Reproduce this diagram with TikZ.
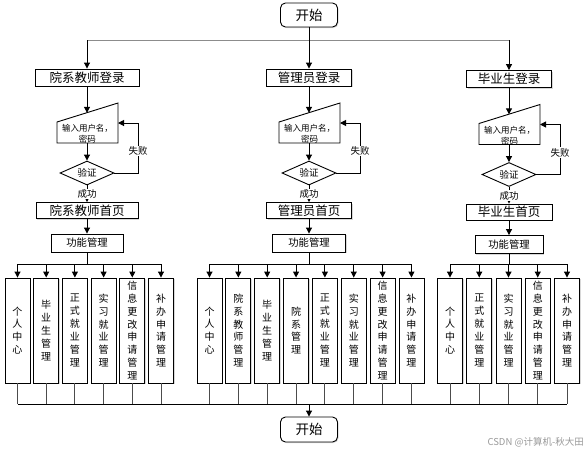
\documentclass[tikz,border=0pt]{standalone}
\usepackage{fontspec}
\setmainfont{Noto Sans CJK SC}
\usetikzlibrary{arrows.meta,shapes.geometric,shadows}
\tikzset{
  arr/.style={-{Triangle[length=6pt,width=6pt]}, line width=1pt},
  conn/.style={line width=1pt},
  shd/.style={drop shadow={shadow xshift=1pt,shadow yshift=-1pt,fill=black!30,opacity=0.5}},
  box/.style={draw, line width=0.9pt, fill=white, inner sep=0pt, shd},
  bigtxt/.style={font=\fontsize{12.5pt}{14pt}\selectfont},
  midtxt/.style={font=\fontsize{10.3pt}{12pt}\selectfont},
  smalltxt/.style={font=\fontsize{8.5pt}{11pt}\selectfont},
  lbl/.style={font=\fontsize{9.5pt}{11pt}\selectfont, fill=white, inner sep=1pt},
  loginbox/.style={box, bigtxt, minimum height=17pt},
  homebox/.style={box, bigtxt, minimum height=16pt},
  funcbox/.style={box, midtxt, minimum height=18pt},
  verify/.style={diamond, draw, line width=0.9pt, aspect=2.25, minimum width=54pt, minimum height=24pt, inner sep=0pt, font=\fontsize{9.5pt}{11pt}\selectfont},
  inshape/.style={draw, line width=0.9pt, fill=white},
  vbox/.style={box, minimum width=25pt, minimum height=105pt, align=center, font=\fontsize{10pt}{12.9pt}\selectfont},
  termbox/.style={box, rounded corners=5pt, minimum width=57pt, font=\fontsize{13.5pt}{15pt}\selectfont},
}
% #1 prefix, #2 cx, #3 dy, #4 login text, #5 login width, #6 home text, #7 home width, #8 func width
\newcommand\flowcol[8]{%
\begin{scope}[shift={(#2,#3)}]
  \node[loginbox, minimum width=#5] (#1login) at (0,77.5) {#4};
  \draw[inshape] (-30,122) -- (31,103) -- (31,143) -- (-30,143) -- cycle;
  \coordinate (#1intop) at (0,112.8);
  \coordinate (#1inright) at (31,123);
  \coordinate (#1inbot) at (0,143);
  \coordinate (#1loop) at (51,123);
  \node[smalltxt, align=center, inner sep=0pt] (#1in) at (0.5,133.8) {输入用户名，\\密码};
  \node[verify] (#1ver) at (0,173) {验证};
  \node[homebox, minimum width=#7] (#1home) at (0,210.5) {#6};
  \node[funcbox, minimum width=#8] (#1func) at (0,243) {功能管理};
  \draw[arr] (#1login) -- (#1intop);
  \draw[arr] (#1inbot) -- (#1ver);
  \draw[arr] (#1ver.east) -| (#1loop) -- (#1inright);
  \node[lbl] (#1fail) at (51,151) {失败};
  \draw[arr] (#1ver) -- (#1home);
  \node[lbl] (#1ok) at (0,194) {成功};
  \draw[arr] (#1home) -- (#1func);
\end{scope}
\coordinate (#1bus) at (#1func.south |- busline);
\draw[conn] (#1func) -- (#1bus);
}
\begin{document}
\begin{tikzpicture}[x=1pt,y=-1pt]
\useasboundingbox (0,0) rectangle (587,451);
\coordinate (busline) at (0,264);
\coordinate (topbus) at (309,40);
\coordinate (endbus) at (309,404);

\node[termbox, minimum height=24pt] (start) at (309,15) {开始};

\flowcol{A}{87}{0}{院系教师登录}{104pt}{院系教师首页}{102pt}{72pt}
\flowcol{B}{309}{0}{管理员登录}{85pt}{管理员首页}{85pt}{73pt}
\flowcol{C}{509}{1.5}{毕业生登录}{85pt}{毕业生首页}{86pt}{68pt}

% top distribution
\draw[conn, black!45] (Alogin.north |- topbus) -- (Clogin.north |- topbus);
\draw[arr] (start) -- (Blogin);
\draw[arr] (Alogin.north |- topbus) -- (Alogin);
\draw[arr] (Clogin.north |- topbus) -- (Clogin);

% lower boxes
\foreach \t [count=\i, evaluate=\i as \x using 17.5+28.7*(\i-1)] in
  {个\\人\\中\\心, 毕\\业\\生\\管\\理, 正\\式\\就\\业\\管\\理, 实\\习\\就\\业\\管\\理, 信\\息\\更\\改\\申\\请\\管\\理, 补\\办\\申\\请\\管\\理}
  {\node[vbox] (L\i) at (\x,330.5) {\t};}
\foreach \t [count=\i, evaluate=\i as \x using 209.5+28.85*(\i-1)] in
  {个\\人\\中\\心, 院\\系\\教\\师\\管\\理, 毕\\业\\生\\管\\理, 院\\系\\管\\理, 正\\式\\就\\业\\管\\理, 实\\习\\就\\业\\管\\理, 信\\息\\更\\改\\申\\请\\管\\理, 补\\办\\申\\请\\管\\理}
  {\node[vbox] (M\i) at (\x,330.5) {\t};}
\foreach \t [count=\i, evaluate=\i as \x using 450+29.25*(\i-1)] in
  {个\\人\\中\\心, 正\\式\\就\\业\\管\\理, 实\\习\\就\\业\\管\\理, 信\\息\\更\\改\\申\\请\\管\\理, 补\\办\\申\\请\\管\\理}
  {\node[vbox] (R\i) at (\x,330.5) {\t};}

% upper buses
\draw[conn] (L1.north |- Abus) -- (L6.north |- Abus);
\draw[conn] (M1.north |- Bbus) -- (M8.north |- Bbus);
\draw[conn] (R1.north |- Cbus) -- (R5.north |- Cbus);
\foreach \i in {1,...,6} {\draw[arr] (L\i.north |- Abus) -- (L\i);}
\foreach \i in {1,...,8} {\draw[arr] (M\i.north |- Bbus) -- (M\i);}
\foreach \i in {1,...,5} {\draw[arr] (R\i.north |- Cbus) -- (R\i);}

% lower bus
\foreach \i in {1,...,6} {\draw[conn, black!70] (L\i) -- (L\i.south |- endbus);}
\foreach \i in {1,...,8} {\draw[conn, black!70] (M\i) -- (M\i.south |- endbus);}
\foreach \i in {1,...,5} {\draw[conn, black!70] (R\i) -- (R\i.south |- endbus);}
\draw[conn] (L1.south |- endbus) -- (R5.south |- endbus);

\node[termbox, minimum height=25pt] (end) at (309,429.5) {开始};
\draw[arr] (endbus) -- (end);

\node[font=\fontsize{9.5pt}{11pt}\selectfont, text=black!40, anchor=east, inner sep=0pt] (wm) at (584,442) {CSDN @计算机-秋大田};
\end{tikzpicture}
\end{document}
